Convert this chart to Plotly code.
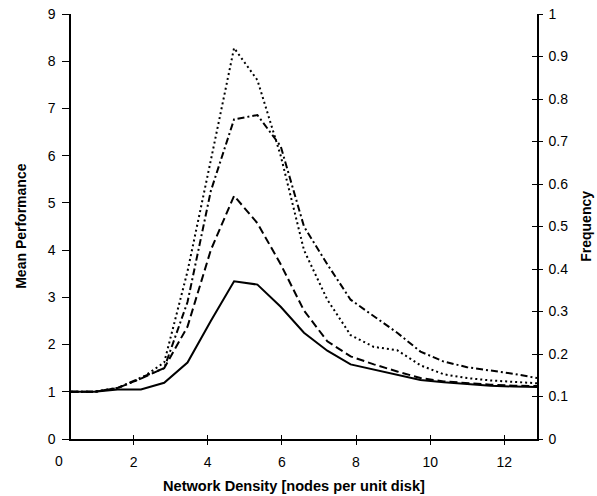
import plotly.graph_objects as go

# Network density values (nodes per unit disk)
density = [0.314, 0.942, 1.571, 2.199, 2.827, 3.456, 4.084, 4.712, 5.341, 5.969,
           6.597, 7.226, 7.854, 8.482, 9.111, 9.739, 10.367, 10.996, 11.624, 12.252, 12.881]

# Mean performance series
solid_vals = [1.0, 1.0, 1.05, 1.05, 1.19, 1.62, 2.5, 3.34, 3.27, 2.8,
              2.25, 1.87, 1.58, 1.47, 1.37, 1.25, 1.2, 1.16, 1.13, 1.11, 1.1]
dashed_vals = [1.0, 1.0, 1.08, 1.28, 1.5, 2.38, 4.0, 5.15, 4.57, 3.7,
               2.72, 2.07, 1.75, 1.58, 1.43, 1.29, 1.22, 1.18, 1.15, 1.13, 1.12]
dotted_vals = [1.0, 1.0, 1.08, 1.28, 1.62, 3.55, 5.9, 8.28, 7.6, 6.0,
               4.0, 2.95, 2.2, 1.95, 1.88, 1.56, 1.37, 1.29, 1.24, 1.21, 1.18]
dashdot_vals = [1.0, 1.0, 1.08, 1.3, 1.5, 2.9, 5.25, 6.77, 6.86, 6.2,
                4.5, 3.7, 2.95, 2.6, 2.25, 1.85, 1.64, 1.52, 1.45, 1.38, 1.29]

x_ticks = [2, 4, 6, 8, 10, 12]
left_ticks = [0, 1, 2, 3, 4, 5, 6, 7, 8, 9]
right_ticks = [0, 0.1, 0.2, 0.3, 0.4, 0.5, 0.6, 0.7, 0.8, 0.9, 1]

FONT = "Liberation Sans, Arial, sans-serif"
X_RANGE = [density[0], density[-1]]

fig = go.Figure()
styles = [
    (solid_vals, "solid"),
    (dashed_vals, "8px,4px"),
    (dotted_vals, "2px,3px"),
    (dashdot_vals, "7px,3px,2px,3px"),
]
for vals, dash in styles:
    fig.add_trace(go.Scatter(x=density, y=vals, mode="lines",
                             line=dict(color="black", width=2, dash=dash),
                             showlegend=False, hoverinfo="skip"))

# helper (empty) traces so the extra axes are rendered
fig.add_trace(go.Scatter(x=[None], y=[None], xaxis="x", yaxis="y2", showlegend=False))
fig.add_trace(go.Scatter(x=[None], y=[None], xaxis="x", yaxis="y3", showlegend=False))
fig.add_trace(go.Scatter(x=[None], y=[None], xaxis="x2", yaxis="y", showlegend=False))

fig.update_layout(
    width=597, height=496,
    margin=dict(l=71, r=60, t=14, b=57),
    paper_bgcolor="white", plot_bgcolor="white",
    font=dict(family=FONT, size=14, color="black"),
    xaxis=dict(range=X_RANGE, tickvals=x_ticks, ticks="outside", ticklen=4,
               tickcolor="black", showline=True, linecolor="black", linewidth=1.5,
               showgrid=False, zeroline=False, ticklabelstandoff=5,
               tickfont=dict(size=14), automargin=False),
    xaxis2=dict(range=X_RANGE, overlaying="x", tickvals=x_ticks, ticks="inside",
                ticklen=4, tickcolor="black", showticklabels=False, showline=False,
                showgrid=False, zeroline=False, side="bottom", anchor="y"),
    yaxis=dict(range=[0, 9], tickvals=left_ticks, ticks="outside", ticklen=7,
               tickcolor="black", showline=True, linecolor="black", linewidth=1.5,
               showgrid=False, zeroline=False, ticklabelstandoff=4,
               tickfont=dict(size=14), automargin=False),
    yaxis2=dict(range=[0, 1], tickvals=right_ticks, overlaying="y", side="right",
                anchor="x", ticks="outside", ticklen=4, tickcolor="black",
                showline=True, linecolor="black", linewidth=1.5, showgrid=False,
                zeroline=False, ticklabelstandoff=3, tickfont=dict(size=14),
                automargin=False),
    yaxis3=dict(range=[0, 1], tickvals=right_ticks, overlaying="y", side="right",
                anchor="x", ticks="inside", ticklen=5, tickcolor="black",
                showticklabels=False, showline=False, showgrid=False, zeroline=False),
)

ann = dict(showarrow=False, font=dict(family=FONT, size=14, color="black"))
fig.add_annotation(text="<b>Network Density [nodes per unit disk]</b>", xref="paper",
                   yref="paper", x=0.479, y=-0.1115, xanchor="center", yanchor="middle",
                   showarrow=False, font=dict(family=FONT, size=14.6, color="black"))
fig.add_annotation(text="<b>Mean Performance</b>", xref="paper", yref="paper",
                   x=-0.1088, y=0.5, textangle=-90, xanchor="center", yanchor="middle", **ann)
fig.add_annotation(text="<b>Frequency</b>", xref="paper", yref="paper",
                   x=1.1036, y=0.5, textangle=-90, xanchor="center", yanchor="middle", **ann)
# x tick label "0" lies just left of the plotted range
fig.add_annotation(text="0", xref="paper", yref="paper", x=-0.025, y=-0.0527,
                   xanchor="center", yanchor="middle", **ann)

fig.write_html("out.html", config={"displayModeBar": False},
               post_script="document.body.style.margin='0';")
